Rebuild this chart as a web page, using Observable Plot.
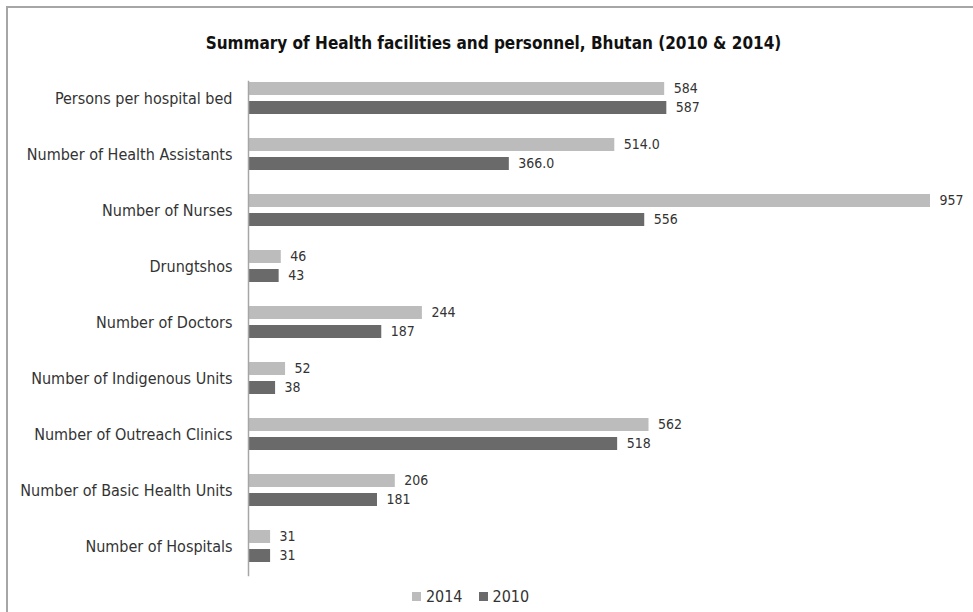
<!DOCTYPE html>
<html><head><meta charset="utf-8">
<script src="https://cdn.jsdelivr.net/npm/d3@7"></script>
<script src="https://cdn.jsdelivr.net/npm/@observablehq/plot@0.6"></script>
<style>
body{margin:0;background:#fff;font-family:"DejaVu Sans Condensed","DejaVu Sans",sans-serif;font-stretch:condensed;}
#wrap{position:relative;width:973px;height:612px;overflow:hidden;}
#frame{position:absolute;left:6px;top:6px;right:-2px;bottom:-2px;border-top:2px solid #a6a6a6;border-left:2px solid #a6a6a6;}
#title{position:absolute;left:7px;width:973px;top:33px;text-align:center;font-weight:bold;font-size:17px;color:#111;}
#chart{position:absolute;left:0;top:0;}
#legend{position:absolute;top:587px;left:-16px;width:973px;text-align:center;font-size:16px;color:#333;}
.sw{display:inline-block;width:9px;height:9px;margin-right:5px;vertical-align:1px}
.it{display:inline-block;margin:0 8px}
</style></head><body>
<div id="wrap"><div id="frame"></div><div id="title">Summary of Health facilities and personnel, Bhutan (2010 &amp; 2014)</div><div id="chart"></div><div id="legend"></div></div>
<script>
const categories = ["Persons per hospital bed","Number of Health Assistants","Number of Nurses","Drungtshos","Number of Doctors","Number of Indigenous Units","Number of Outreach Clinics","Number of Basic Health Units","Number of Hospitals"];
const series = ["2014","2010"];
const values2014 = [584,514.0,957,46,244,52,562,206,31];
const values2010 = [587,366.0,556,43,187,38,518,181,31];
const labels2014 = ["584","514.0","957","46","244","52","562","206","31"];
const labels2010 = ["587","366.0","556","43","187","38","518","181","31"];
const colors = ["#bcbcbc","#6a6a6a"];

const data = [];
categories.forEach((c,i)=>{
  data.push({cat:c, s:"2014", v:values2014[i], lab:labels2014[i]});
  data.push({cat:c, s:"2010", v:values2010[i], lab:labels2010[i]});
});

const chart = Plot.plot({
  width:973, height:612,
  marginTop:71, marginBottom:37, marginLeft:248, marginRight:43,
  style:{fontFamily:'"DejaVu Sans Condensed","DejaVu Sans",sans-serif', background:"transparent"},
  x:{domain:[0,957], axis:null},
  y:{domain:series, axis:null, paddingInner:0.3, paddingOuter:0},
  fy:{domain:categories, paddingInner:0.41, paddingOuter:0.205, label:null, axis:"left", tickSize:0, tickPadding:16, fontSize:16},
  color:{domain:series, range:colors},
  marks:[
    Plot.barX(data,{fy:"cat", y:"s", x:"v", fill:"s"}),
    Plot.text(data,{fy:"cat", y:"s", x:"v", text:"lab", textAnchor:"start", dx:9, fill:"#333", fontSize:14}),
    Plot.frame({anchor:"left", facet:"super", stroke:"#a6a6a6", strokeWidth:1.5, insetBottom:-12, insetTop:-1})
  ]
});
chart.querySelectorAll('g[aria-label="fy-axis tick label"]').forEach(g=>{g.setAttribute("font-size","16");g.setAttribute("fill","#333");});
document.getElementById("chart").appendChild(chart);

const leg = document.getElementById("legend");
series.forEach((s,i)=>{
  const it=document.createElement("span"); it.className="it";
  it.innerHTML=`<span class="sw" style="background:${colors[i]}"></span>${s}`;
  leg.appendChild(it);
});
</script></body></html>
